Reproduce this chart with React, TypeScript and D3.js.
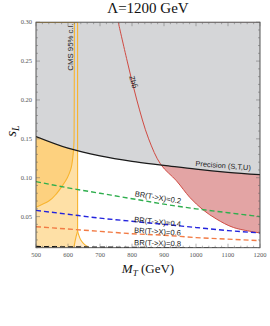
import React from "react";
import * as d3 from "d3";

// ---- data ----
const massGrid = [500, 600, 700, 800, 900, 1000, 1100, 1200];
const precision = [0.153, 0.138, 0.128, 0.121, 0.116, 0.111, 0.107, 0.104];
const br02 = [0.095, 0.087, 0.08, 0.073, 0.066, 0.06, 0.055, 0.05];
const br04 = [0.058, 0.053, 0.048, 0.044, 0.04, 0.036, 0.032, 0.029];
const br06 = [0.037, 0.034, 0.031, 0.028, 0.026, 0.023, 0.021, 0.019];
const br08 = [0.0115, 0.011, 0.0107, 0.0103, 0.01, 0.0097, 0.0094, 0.009];

const zbbM = [757, 785, 815, 852, 890, 939, 981, 1022, 1065, 1117, 1200];
const zbbS = [0.3, 0.25, 0.2, 0.15, 0.117, 0.096, 0.0745, 0.0587, 0.0466, 0.036, 0.029];

// CMS exclusion contours
const cmsInnerM = [620, 619, 616, 608, 598, 583, 565, 540, 500];
const cmsInnerS = [0.3, 0.15, 0.13, 0.11, 0.1, 0.09, 0.08, 0.07, 0.062];
const cmsOuterM = [630, 630, 629, 627, 623, 620, 618];
const cmsOuterS = [0.3, 0.032, 0.03, 0.027, 0.02, 0.014, 0.01];
const cmsFlareM = [630, 631, 633, 640, 652, 666];
const cmsFlareS = [0.032, 0.03, 0.027, 0.02, 0.014, 0.01];

const xTicks = [500, 600, 700, 800, 900, 1000, 1100, 1200];
const yTicks = [0.05, 0.1, 0.15, 0.2, 0.25, 0.3];

const brSeries = [
  { label: "BR(T->X)=0.2", values: br02, color: "#2fae4e" },
  { label: "BR(T->X)=0.4", values: br04, color: "#2323dd" },
  { label: "BR(T->X)=0.6", values: br06, color: "#f27b45" },
  { label: "BR(T->X)=0.8", values: br08, color: "#151515" },
];

const W = 270;
const H = 326;

export default function App() {
  const x = d3.scaleLinear().domain([500, 1200]).range([36, 260]);
  const y = d3.scaleLinear().domain([0.01, 0.3]).range([247.7, 22.2]);
  const [x0, x1] = x.range();
  const [y0, y1] = y.range();

  const fnLine = d3
    .line<[number, number]>()
    .x((d) => x(d[0]))
    .y((d) => y(d[1]))
    .curve(d3.curveMonotoneX);
  const paraLine = d3
    .line<[number, number]>()
    .x((d) => x(d[0]))
    .y((d) => y(d[1]))
    .curve(d3.curveCatmullRom);
  const yLine = d3
    .line<[number, number]>()
    .x((d) => x(d[0]))
    .y((d) => y(d[1]))
    .curve(d3.curveMonotoneY);
  const straight = d3
    .line<[number, number]>()
    .x((d) => x(d[0]))
    .y((d) => y(d[1]));

  const zip = (a: number[], b: number[]) => a.map((v, i) => [v, b[i]] as [number, number]);

  const precPts = zip(massGrid, precision);
  const zbbPts = zip(zbbM, zbbS);
  const innerPts = zip(cmsInnerM, cmsInnerS);
  const outerPts = zip(cmsOuterM, cmsOuterS);
  const flarePts = zip(cmsFlareM, cmsFlareS);

  const precPath = fnLine(precPts)!;
  const grayPath = `${precPath}L${x(1200)},${y(0.3)}L${x(500)},${y(0.3)}Z`;
  const zbbPath = paraLine(zbbPts)!;
  const redFill = `${zbbPath}L${x(1200)},${y(0.3)}Z`;
  const outerPath = yLine(outerPts)!;
  const regionA = `${outerPath}L${x(500)},${y(0.01)}L${x(500)},${y(0.3)}Z`;
  const innerPath = yLine(innerPts)!;
  const blob = `${innerPath}L${x(500)},${y(0.3)}Z`;
  const lambdaPts = [...flarePts, ...outerPts.slice(1).reverse().filter((p) => p[1] < 0.032)];
  const lambdaPath = straight(lambdaPts)! + "Z";
  const flarePath = yLine(flarePts)!;

  // ticks
  const xMinor = d3.range(500, 1201, 20);
  const yMinor = d3.range(0.01, 0.3001, 0.01);

  const tickColor = "#666";
  const serif = "'Liberation Serif', 'DejaVu Serif', serif";
  const sans = "'Liberation Sans', Arial, sans-serif";

  const labelPos = [
    { m: 881, s: 0.0745, rot: 9.2 },
    { m: 880, s: 0.0432, rot: 5.8 },
    { m: 880, s: 0.0307, rot: 3.6 },
    { m: 880, s: 0.0157, rot: 1.5 },
  ];

  return (
    <svg
      width={W}
      height={H}
      style={{ position: "absolute", left: 0, top: 0, background: "#fff" }}
    >
      <defs>
        <clipPath id="plotClip">
          <rect x={x0} y={y1} width={x1 - x0} height={y0 - y1} />
        </clipPath>
      </defs>
      <rect x={0} y={0} width={W} height={H} fill="#fff" />
      <g clipPath="url(#plotClip)">
        <path d={regionA} fill="#fee0a6" />
        <path d={lambdaPath} fill="#feeacb" />
        <path d={blob} fill="#fdd17f" />
        <path d={redFill} fill="#e3a4a4" />
        <path d={grayPath} fill="#d5d6d8" />
        <path d={zbbPath} fill="none" stroke="#cf4a42" strokeWidth={1} />
        <path d={innerPath} fill="none" stroke="#f8b42e" strokeWidth={1.1} />
        <path d={outerPath} fill="none" stroke="#f8b42e" strokeWidth={1.1} />
        <path d={flarePath} fill="none" stroke="#f8b42e" strokeWidth={1.1} />
        <line x1={x(500)} x2={x(630)} y1={y(0.3)} y2={y(0.3)} stroke="#f8b42e" strokeWidth={1.5} />
        <path d={precPath} fill="none" stroke="#1a1a1a" strokeWidth={1.3} />
        {brSeries.map((s) => (
          <path
            key={s.label}
            d={fnLine(zip(massGrid, s.values))!}
            fill="none"
            stroke={s.color}
            strokeWidth={1.4}
            strokeDasharray="5,3"
          />
        ))}
      </g>

      {/* frame */}
      <rect x={x0} y={y1} width={x1 - x0} height={y0 - y1} fill="none" stroke="#444" strokeWidth={0.9} />

      {/* ticks */}
      {xMinor.map((v) => {
        const major = v % 100 === 0;
        const len = major ? 4 : 2;
        return (
          <g key={"xt" + v} stroke={tickColor} strokeWidth={0.5}>
            <line x1={x(v)} x2={x(v)} y1={y0} y2={y0 - len} />
            <line x1={x(v)} x2={x(v)} y1={y1} y2={y1 + len} />
          </g>
        );
      })}
      {yMinor.map((v) => {
        const major = Math.abs(Math.round(v * 100) % 5) === 0;
        const len = major ? 4 : 2;
        return (
          <g key={"yt" + v.toFixed(2)} stroke={tickColor} strokeWidth={0.5}>
            <line x1={x0} x2={x0 + len} y1={y(v)} y2={y(v)} />
            <line x1={x1} x2={x1 - len} y1={y(v)} y2={y(v)} />
          </g>
        );
      })}

      {xTicks.map((v) => (
        <text
          key={"xl" + v}
          x={x(v)}
          y={y0 + 9}
          fontFamily={serif}
          fontSize={6.5}
          fill="#555"
          textAnchor="middle"
        >
          {v}
        </text>
      ))}
      {yTicks.map((v) => (
        <text
          key={"yl" + v}
          x={x0 - 4}
          y={y(v) + 2.2}
          fontFamily={serif}
          fontSize={6.5}
          fill="#555"
          textAnchor="end"
        >
          {v.toFixed(2)}
        </text>
      ))}

      {/* labels */}
      {brSeries.map((s, i) => {
        const p = labelPos[i];
        return (
          <text
            key={"bl" + s.label}
            transform={`translate(${x(p.m)},${y(p.s)}) rotate(${p.rot})`}
            fontFamily={sans}
            fontSize={7.6}
            fill="#222"
            textAnchor="middle"
            dominantBaseline="central"
          >
            {s.label}
          </text>
        );
      })}
      <text
        transform={`translate(${x(1085)},${y(0.1155)}) rotate(4.5)`}
        fontFamily={sans}
        fontSize={7.4}
        fill="#222"
        textAnchor="middle"
        dominantBaseline="central"
      >
        Precision (S,T,U)
      </text>
      <text
        transform={`translate(${x(608)},${y(0.268)}) rotate(-90)`}
        fontFamily={sans}
        fontSize={7.8}
        fill="#222"
        textAnchor="middle"
        dominantBaseline="central"
      >
        CMS 95% c.l.
      </text>
      <text
        transform={`translate(${x(804)},${y(0.223)}) rotate(76)`}
        fontFamily={sans}
        fontSize={7.4}
        fill="#222"
        textAnchor="middle"
        dominantBaseline="central"
      >
        Zbb̄
      </text>

      {/* title */}
      <text x={(x0 + x1) / 2} y={13} fontFamily={serif} fontSize={15} fill="#111" textAnchor="middle">
        Λ=1200 GeV
      </text>
      {/* x label */}
      <text x={(x0 + x1) / 2} y={273} fontFamily={serif} fontSize={13} fill="#111" textAnchor="middle">
        <tspan fontStyle="italic">M</tspan>
        <tspan fontStyle="italic" fontSize={9} dy={3}>T</tspan>
        <tspan dy={-3}> (GeV)</tspan>
      </text>
      {/* y label */}
      <text
        transform={`translate(16,${y(0.16)}) rotate(-90)`}
        fontFamily={serif}
        fontSize={15}
        fill="#111"
        textAnchor="middle"
      >
        <tspan fontStyle="italic">s</tspan>
        <tspan fontStyle="italic" fontSize={10} dy={3}>L</tspan>
      </text>
    </svg>
  );
}
